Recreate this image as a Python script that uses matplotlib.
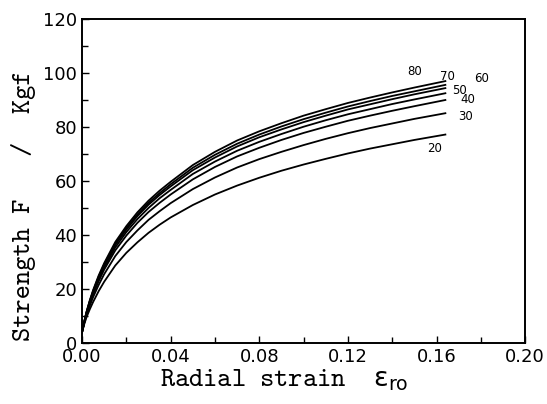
import matplotlib
matplotlib.use("Agg")
import matplotlib.pyplot as plt
from matplotlib.ticker import MultipleLocator, FormatStrFormatter

# radial strain sample points
strain = [0.0, 0.001, 0.002, 0.0035, 0.005, 0.0075, 0.01, 0.015, 0.02, 0.025,
          0.03, 0.035, 0.04, 0.05, 0.06, 0.07, 0.08, 0.09, 0.10, 0.11,
          0.12, 0.13, 0.14, 0.15, 0.164]

# strength F (Kgf), one list per curve label
curve_labels = ["20", "30", "40", "50", "60", "70", "80"]
f20 = [4, 7.0, 9.5, 12.5, 15.2, 19.2, 22.7, 28.7, 33.4, 37.3,
       40.8, 43.8, 46.5, 51.1, 55.0, 58.3, 61.2, 63.8, 66.1, 68.2,
       70.2, 72.0, 73.6, 75.2, 77.2]
f30 = [4, 7.4, 10.3, 13.8, 17.0, 21.5, 25.5, 32.2, 37.4, 41.7,
       45.6, 48.8, 51.8, 57.0, 61.3, 65.0, 68.1, 70.8, 73.3, 75.6,
       77.7, 79.6, 81.3, 83.0, 85.1]
f40 = [4, 7.6, 10.8, 14.6, 18.0, 22.9, 27.2, 34.3, 39.8, 44.5,
       48.5, 51.9, 55.0, 60.6, 65.2, 69.1, 72.3, 75.2, 77.8, 80.1,
       82.3, 84.2, 86.0, 87.7, 90.0]
f50 = [4, 7.8, 11.1, 15.1, 18.6, 23.7, 28.0, 35.4, 41.1, 45.9,
       50.0, 53.6, 56.7, 62.6, 67.2, 71.2, 74.5, 77.4, 80.1, 82.5,
       84.7, 86.6, 88.5, 90.2, 92.5]
f60 = [4, 7.9, 11.2, 15.4, 19.0, 24.2, 28.7, 36.3, 42.0, 47.0,
       51.2, 54.8, 58.0, 64.0, 68.7, 72.8, 76.2, 79.1, 81.8, 84.2,
       86.5, 88.4, 90.3, 92.1, 94.4]
f70 = [4, 7.9, 11.4, 15.6, 19.3, 24.6, 29.1, 36.8, 42.6, 47.6,
       51.9, 55.5, 58.8, 64.9, 69.7, 73.8, 77.2, 80.2, 82.9, 85.3,
       87.6, 89.6, 91.5, 93.2, 95.6]
f80 = [4, 8.0, 11.5, 15.8, 19.6, 25.0, 29.6, 37.4, 43.3, 48.4,
       52.7, 56.4, 59.7, 65.9, 70.8, 75.0, 78.4, 81.4, 84.2, 86.6,
       88.9, 90.9, 92.8, 94.6, 97.0]
curves = [f20, f30, f40, f50, f60, f70, f80]

# where the curve labels sit (strain, strength)
label_x = [0.159, 0.173, 0.174, 0.1705, 0.1805, 0.165, 0.150]
label_y = [72.0, 84.0, 90.0, 93.6, 98.0, 98.8, 100.6]

fig = plt.figure(figsize=(5.47, 4.04), dpi=100)
ax = fig.add_axes([0.150, 0.151, 0.810, 0.802])

for ys in curves:
    ax.plot(strain, ys, color="black", lw=1.3)

for lab, lx, ly in zip(curve_labels, label_x, label_y):
    ax.text(lx, ly, lab, fontsize=8.5, ha="center", va="center")

ax.set_xlim(0, 0.2)
ax.set_ylim(0, 120)
ax.xaxis.set_major_locator(MultipleLocator(0.04))
ax.xaxis.set_minor_locator(MultipleLocator(0.02))
ax.yaxis.set_major_locator(MultipleLocator(20))
ax.yaxis.set_minor_locator(MultipleLocator(10))
ax.xaxis.set_major_formatter(FormatStrFormatter("%.2f"))
ax.tick_params(which="both", direction="in", top=False, right=False,
               labelsize=13, width=1.0)
ax.tick_params(which="major", length=5)
ax.tick_params(which="minor", length=4)
for sp in ax.spines.values():
    sp.set_linewidth(1.4)

ax.set_xlabel(r"Radial strain  $\mathrm{\varepsilon}_{\mathrm{ro}}$",
              family="cmtt10", fontsize=19.5)
ax.set_ylabel("Strength F   /  Kgf", family="cmtt10", fontsize=19.5)
ax.xaxis.set_label_coords(0.457, -0.075)
ax.yaxis.set_label_coords(-0.104, 0.424)

fig.savefig("out.png", dpi=100)
